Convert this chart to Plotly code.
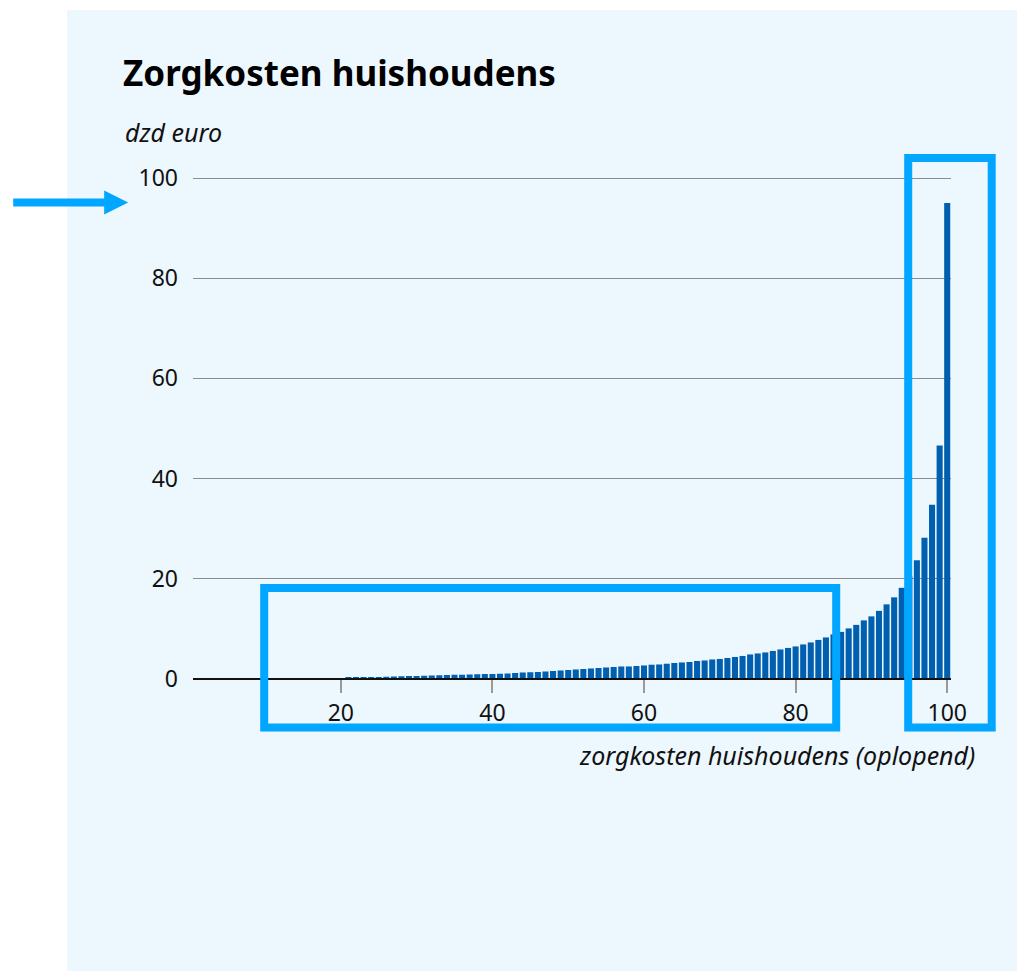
import plotly.graph_objects as go

percentiles = list(range(1, 101))
costs = [0]*20 + [
    0.3, 0.3, 0.35, 0.4, 0.4, 0.45, 0.5, 0.55, 0.6, 0.6,
    0.65, 0.7, 0.75, 0.8, 0.85, 0.85, 0.9, 0.95, 1.0, 1.0,
    1.05, 1.1, 1.2, 1.3, 1.35, 1.4, 1.5, 1.6, 1.7, 1.8,
    1.9, 2.0, 2.1, 2.2, 2.3, 2.4, 2.5, 2.5, 2.6, 2.7,
    2.85, 2.9, 3.05, 3.2, 3.3, 3.4, 3.6, 3.7, 3.9, 4.0,
    4.2, 4.4, 4.6, 4.9, 5.1, 5.3, 5.6, 5.9, 6.2, 6.5,
    6.9, 7.3, 7.8, 8.3, 8.9, 9.4, 10.1, 10.8, 11.7, 12.5,
    13.6, 14.9, 16.3, 18.2, 20.5, 23.7, 28.2, 34.8, 46.6, 95.0,
]
x_ticks = [20, 40, 60, 80, 100]
y_ticks = [0, 20, 40, 60, 80, 100]

# page geometry (body margin of 8px is compensated)
OFF = 8
PAGE_W, PAGE_H = 1025, 971
W, H = PAGE_W - OFF, PAGE_H - OFF
YMAX = 101.0
L, R = 192.8, 950.8
B = 679.0
T = B - 5.01 * YMAX

def px(x):
    return (x - L) / (R - L)

def py(y):
    return (B - y) / (B - T)

BAR = "#015fb0"
HL = "#00a6ff"

fig = go.Figure(go.Bar(x=percentiles, y=costs, marker=dict(color=BAR, line=dict(width=0))))

shapes = [
    dict(type="rect", xref="paper", yref="paper", x0=px(67), x1=px(PAGE_W + 2), y0=py(10), y1=py(PAGE_H + 2),
         fillcolor="#edf7fe", line=dict(width=0), layer="below"),
    dict(type="line", xref="paper", yref="paper", x0=px(L), x1=px(R), y0=py(B), y1=py(B),
         line=dict(color="#111111", width=2)),
    dict(type="rect", xref="paper", yref="paper", x0=px(264), x1=px(836), y0=py(588), y1=py(727.5),
         line=dict(color=HL, width=8)),
    dict(type="rect", xref="paper", yref="paper", x0=px(908), x1=px(991.5), y0=py(158), y1=py(727.5),
         line=dict(color=HL, width=8)),
    dict(type="line", xref="paper", yref="paper", x0=px(13), x1=px(106), y0=py(202.5), y1=py(202.5),
         line=dict(color=HL, width=8)),
    dict(type="path", xref="paper", yref="paper",
         path=f"M {px(104)},{py(190.5)} L {px(128)},{py(202.5)} L {px(104)},{py(214.5)} Z",
         fillcolor=HL, line=dict(width=0)),
]

annotations = [
    dict(text="<b>Zorgkosten huishoudens</b>", xref="paper", yref="paper", x=px(121), y=py(72),
         xanchor="left", yanchor="middle", showarrow=False,
         font=dict(family="Noto Sans", size=35, color="#000000")),
    dict(text="<i>dzd euro</i>", xref="paper", yref="paper", x=px(123), y=py(132),
         xanchor="left", yanchor="middle", showarrow=False,
         font=dict(family="Noto Sans", size=25, color="#111111")),
    dict(text="<i>zorgkosten huishoudens (oplopend)</i>", xref="paper", yref="paper", x=px(977), y=py(755),
         xanchor="right", yanchor="middle", showarrow=False,
         font=dict(family="Noto Sans", size=25, color="#111111")),
]

fig.update_layout(
    width=W, height=H,
    margin=dict(l=L - OFF, r=PAGE_W - R, t=T - OFF, b=PAGE_H - B, pad=0),
    paper_bgcolor="white",
    plot_bgcolor="rgba(0,0,0,0)",
    showlegend=False,
    bargap=0.2,
    shapes=shapes,
    annotations=annotations,
    xaxis=dict(range=[0.5, 100.5], tickvals=x_ticks, ticks="outside", ticklen=13, tickwidth=2,
               tickcolor="#999999", showgrid=False, zeroline=False, showline=False,
               tickfont=dict(family="Noto Sans", size=23, color="#111111")),
    yaxis=dict(range=[0, YMAX], tickvals=y_ticks, showgrid=True, gridcolor="#8c8c8c", gridwidth=1,
               zeroline=False, showline=False, ticks="", ticklabelstandoff=14,
               tickfont=dict(family="Noto Sans", size=23, color="#111111")),
)

fig.write_html("out.html")
